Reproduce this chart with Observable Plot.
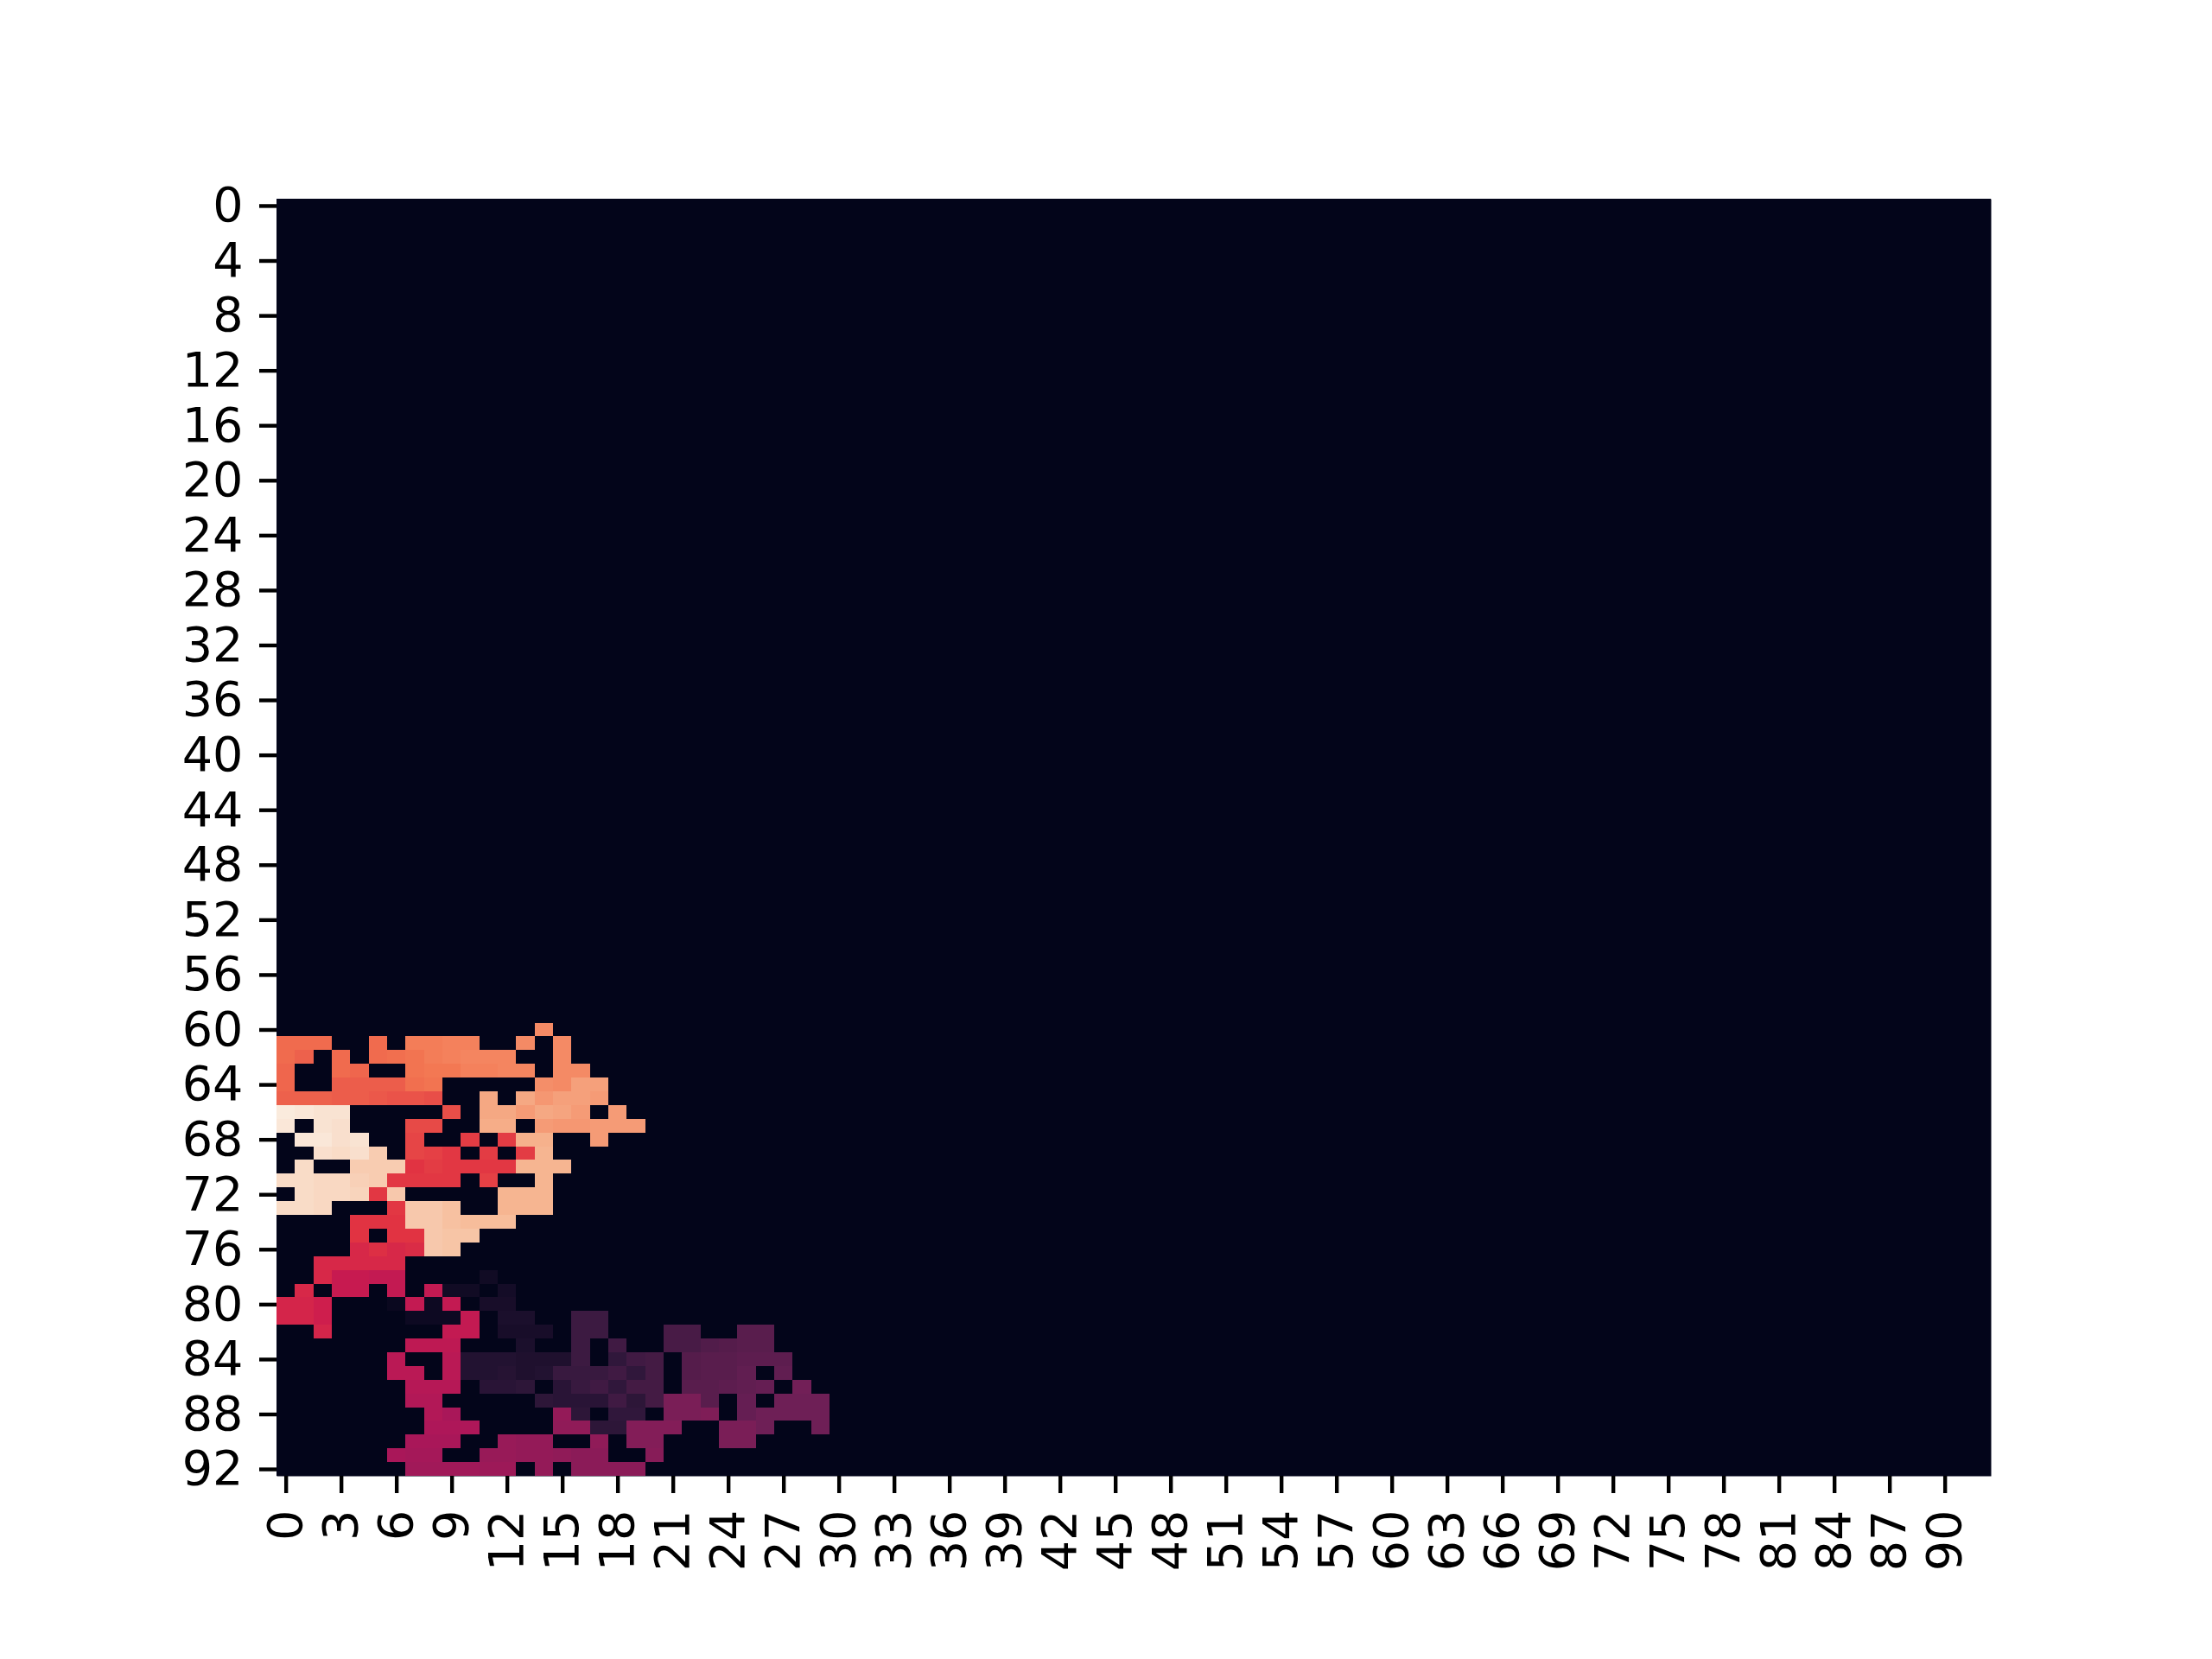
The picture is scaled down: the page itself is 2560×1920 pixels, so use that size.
<!DOCTYPE html>
<html>
<head>
<meta charset="utf-8">
<script src="https://cdn.jsdelivr.net/npm/d3@7"></script>
<script src="https://cdn.jsdelivr.net/npm/@observablehq/plot@0.6"></script>
<style>
  html, body { margin: 0; padding: 0; background: #ffffff; }
  #chart svg { display: block; }
</style>
</head>
<body>
<div id="chart"></div>
<script>
// Grid: 93 rows x 93 columns; every cell outside the patch below is 0.
const nRows = 93;
const nCols = 93;
const xTicks = [0,3,6,9,12,15,18,21,24,27,30,33,36,39,42,45,48,51,54,57,60,63,66,69,72,75,78,81,84,87,90];
const yTicks = [0,4,8,12,16,20,24,28,32,36,40,44,48,52,56,60,64,68,72,76,80,84,88,92];

// Non-zero patch: rows 60..92, columns 0..29 (values on a 0..100 scale)
const patchFirstRow = 60;
const patchRows = [
  [0,0,0,0,0,0,0,0,0,0,0,0,0,0,76,0,0,0,0,0,0,0,0,0,0,0,0,0,0,0],
  [69,69,69,0,0,69,0,73,73,74,74,0,0,76,0,76,0,0,0,0,0,0,0,0,0,0,0,0,0,0],
  [69,67,0,69,0,69,70,71,73,74,75,75,75,0,0,76,0,0,0,0,0,0,0,0,0,0,0,0,0,0],
  [68,0,0,69,68,0,0,71,72,72,74,74,75,75,0,76,76,0,0,0,0,0,0,0,0,0,0,0,0,0],
  [68,0,0,66,66,66,66,70,71,0,0,0,0,0,77,76,81,81,0,0,0,0,0,0,0,0,0,0,0,0],
  [67,67,67,66,66,65,64,64,63,0,0,83,0,83,79,81,81,80,0,0,0,0,0,0,0,0,0,0,0,0],
  [100,99,98,98,0,0,0,0,0,63,0,83,83,80,83,82,80,0,80,0,0,0,0,0,0,0,0,0,0,0],
  [99,0,98,97,0,0,0,62,62,0,0,84,84,0,80,79,79,80,80,80,0,0,0,0,0,0,0,0,0,0],
  [0,99,99,97,98,0,0,61,0,0,59,0,59,85,85,0,0,80,0,0,0,0,0,0,0,0,0,0,0,0],
  [0,0,97,96,97,92,0,61,60,58,0,59,0,59,86,0,0,0,0,0,0,0,0,0,0,0,0,0,0,0],
  [0,96,0,0,92,92,92,57,59,58,58,58,58,86,86,86,0,0,0,0,0,0,0,0,0,0,0,0,0,0],
  [96,96,95,95,93,92,58,58,58,58,0,60,0,0,86,0,0,0,0,0,0,0,0,0,0,0,0,0,0,0],
  [0,96,95,95,94,58,91,0,0,0,0,0,86,86,86,0,0,0,0,0,0,0,0,0,0,0,0,0,0,0],
  [96,96,95,0,0,0,58,91,91,89,0,0,86,86,86,0,0,0,0,0,0,0,0,0,0,0,0,0,0,0],
  [0,0,0,0,57,57,57,91,91,89,88,88,88,0,0,0,0,0,0,0,0,0,0,0,0,0,0,0,0,0],
  [0,0,0,0,57,0,57,57,91,90,90,0,0,0,0,0,0,0,0,0,0,0,0,0,0,0,0,0,0,0],
  [0,0,0,0,54,56,54,55,91,90,0,0,0,0,0,0,0,0,0,0,0,0,0,0,0,0,0,0,0,0],
  [0,0,54,54,54,54,54,0,0,0,0,0,0,0,0,0,0,0,0,0,0,0,0,0,0,0,0,0,0,0],
  [0,0,54,49,49,48,48,0,0,0,0,4,0,0,0,0,0,0,0,0,0,0,0,0,0,0,0,0,0,0],
  [0,54,0,49,49,0,48,0,48,4,4,0,5,0,0,0,0,0,0,0,0,0,0,0,0,0,0,0,0,0],
  [53,53,51,0,0,0,2,48,3,48,0,6,6,0,0,0,0,0,0,0,0,0,0,0,0,0,0,0,0,0],
  [53,53,51,0,0,0,0,3,3,3,48,0,7,7,0,0,16,16,0,0,0,0,0,0,0,0,0,0,0,0],
  [0,0,53,0,0,0,0,0,0,48,48,0,6,6,6,0,16,16,0,0,0,19,19,0,0,23,23,0,0,0],
  [0,0,0,0,0,0,0,47,47,47,0,0,0,7,0,0,16,0,17,0,0,19,19,21,22,23,23,0,0,0],
  [0,0,0,0,0,0,46,0,0,46,9,9,9,8,8,8,16,0,13,17,18,0,22,23,23,24,24,24,0,0],
  [0,0,0,0,0,0,46,46,0,46,9,9,10,8,9,15,15,15,17,13,18,0,22,23,23,25,0,25,0,0],
  [0,0,0,0,0,0,0,45,45,45,0,11,11,12,0,11,15,17,13,18,18,0,23,23,24,25,26,0,29,0],
  [0,0,0,0,0,0,0,44,44,0,0,0,0,0,12,11,11,11,17,12,18,31,31,23,0,26,0,28,28,28],
  [0,0,0,0,0,0,0,0,44,42,0,0,0,0,0,37,12,0,13,13,0,31,31,32,0,26,28,28,28,28],
  [0,0,0,0,0,0,0,0,43,43,43,0,0,0,0,36,36,12,12,33,33,33,0,0,31,31,28,0,0,28],
  [0,0,0,0,0,0,0,42,42,42,0,0,38,37,37,0,0,36,0,33,33,0,0,0,31,31,0,0,0,0],
  [0,0,0,0,0,0,42,41,41,0,0,38,38,37,37,36,35,35,0,0,34,0,0,0,0,0,0,0,0,0],
  [0,0,0,0,0,0,0,40,40,40,40,39,39,0,37,0,35,35,35,35,0,0,0,0,0,0,0,0,0,0]
];

// Approximation of seaborn's "rocket" colormap
const rocketPos = [0, 14.29, 28.57, 42.86, 50, 57.14, 71.43, 85.71, 100];
const rocketColors = ["#03051a", "#35193e", "#701f57", "#ad1759", "#cb1b4f", "#e13342", "#f37651", "#f6b48f", "#faebdd"];

const cells = [];
for (let r = 0; r < nRows; r++) {
  for (let c = 0; c < nCols; c++) {
    let v = 0;
    const pr = r - patchFirstRow;
    if (pr >= 0 && pr < patchRows.length && c < patchRows[pr].length) v = patchRows[pr][c];
    cells.push({row: r, col: c, value: v});
  }
}

const chart = Plot.plot({
  width: 2560,
  height: 1920,
  marginLeft: 320,
  marginRight: 256,
  marginTop: 230,
  marginBottom: 212,
  style: {fontFamily: "DejaVu Sans", background: "#ffffff", color: "#000000"},
  x: {type: "band", domain: d3.range(nCols), padding: 0, axis: null},
  y: {type: "band", domain: d3.range(nRows), padding: 0, axis: null},
  color: {type: "linear", domain: rocketPos, range: rocketColors, interpolate: "rgb"},
  marks: [
    Plot.frame({fill: rocketColors[0], stroke: null}),
    Plot.cell(cells, {x: "col", y: "row", fill: "value", inset: 0, shapeRendering: "crispEdges"}),
    Plot.axisX({ticks: xTicks, anchor: "bottom", tickSize: 20, tickPadding: 19, tickRotate: -90, fontSize: 55.6, strokeWidth: 4.4, label: null}),
    Plot.axisY({ticks: yTicks, anchor: "left", tickSize: 20, tickPadding: 19, fontSize: 55.6, strokeWidth: 4.4, label: null})
  ]
});
document.getElementById("chart").appendChild(chart);
</script>
</body>
</html>
